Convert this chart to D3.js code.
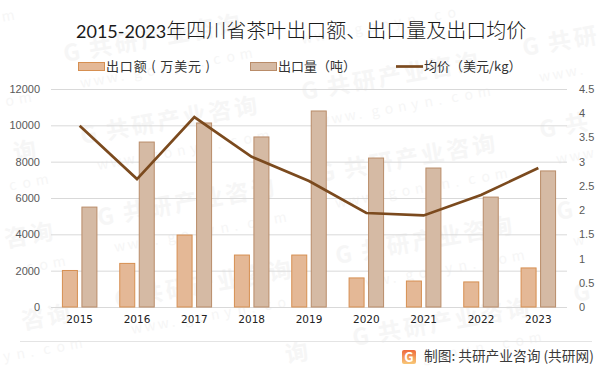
<!DOCTYPE html>
<html>
<head>
<meta charset="utf-8">
<script src="https://cdn.jsdelivr.net/npm/d3@7"></script>
<style>
html,body{margin:0;padding:0;background:#fff}
svg{display:block}
text{font-family:"Noto Sans CJK SC","Liberation Sans",sans-serif;text-spacing-trim:space-all}
</style>
</head>
<body>
<svg id="chart" width="603" height="374"></svg>
<script>
const years = ["2015","2016","2017","2018","2019","2020","2021","2022","2023"]
const amount = [2010,2400,3960,2860,2860,1600,1430,1380,2150]
const volume = [5500,9080,10130,9360,10790,8200,7650,6050,7490]
const price = [3.74,2.64,3.92,3.10,2.60,1.94,1.89,2.31,2.87]
const leftTicks = [0,2000,4000,6000,8000,10000,12000]
const rightTicks = [0,0.5,1,1.5,2,2.5,3,3.5,4,4.5]

const titleYears = "2015-2023"
const titleRest = "年四川省茶叶出口额、出口量及出口均价"
const amountName = "出口额 ( 万美元 )"
const volumeName = "出口量（吨）"
const priceName = "均价（美元/kg）"
const sourceText = "制图: 共研产业咨询 (共研网)"
const wmName = "G共研产业咨询"
const wmSite = "www.gonyn.com"

const W = 603, H = 374
const svg = d3.select("#chart")
const box = {left:51,right:567,top:89,bottom:307}

// watermark goes under everything. one glyph per text so the ones off the page can be skipped
const wm = svg.append("g").attr("fill","#f6f6f6")
const rad = -10*Math.PI/180
function wmGlyphs(str,ox,oy,step,size,weight){
	for(let i=0;i<str.length;i++){
		let px = ox+i*step*Math.cos(rad)
		let py = oy+i*step*Math.sin(rad)
		if(px<2 || px>W-size-2 || py<size+2 || py>H-10) continue
		wm.append("text")
			.text(str[i])
			.attr("transform","translate("+px+","+py+") rotate(-10)")
			.attr("font-size",size)
			.attr("font-weight",weight)
	}
}
for(let col=-1;col<4;col++){
	for(let row=-1;row<6;row++){
		let ox = 65+col*238+row*17
		let oy = 62+col*38+row*82
		wmGlyphs(wmName,ox,oy,26,23,700)
		wmGlyphs(wmSite,ox+16,oy+26,13.5,14,400)
	}
}

const x = d3.scaleBand().domain(years).range([box.left,box.right])
const yLeft = d3.scaleLinear().domain([0,12000]).range([box.bottom,box.top])
const yRight = d3.scaleLinear().domain([0,4.5]).range([box.bottom,box.top])

// gridlines
svg.append("g").selectAll("line").data(leftTicks).join("line")
	.attr("x1",box.left).attr("x2",box.right)
	.attr("y1",d=>yLeft(d)+0.5).attr("y2",d=>yLeft(d)+0.5)
	.attr("stroke","#d9d9d9").attr("stroke-width",1)

const barW = 15
const barGap = 4.5
function cx(y){ return x(y)+x.bandwidth()/2 }

svg.append("g").selectAll("rect").data(years).join("rect")
	.attr("x",d=>cx(d)-barGap/2-barW)
	.attr("y",(d,i)=>yLeft(amount[i]))
	.attr("width",barW)
	.attr("height",(d,i)=>box.bottom-yLeft(amount[i]))
	.attr("fill","#e4b896")
	.attr("stroke","#d68f51").attr("stroke-width",1)

svg.append("g").selectAll("rect").data(years).join("rect")
	.attr("x",d=>cx(d)+barGap/2)
	.attr("y",(d,i)=>yLeft(volume[i]))
	.attr("width",barW)
	.attr("height",(d,i)=>box.bottom-yLeft(volume[i]))
	.attr("fill","#d5baa4")
	.attr("stroke","#b98c69").attr("stroke-width",1)

const line = d3.line().x((d,i)=>cx(years[i])).y(d=>yRight(d))
svg.append("path")
	.attr("d",line(price))
	.attr("fill","none")
	.attr("stroke","#7b4a1e")
	.attr("stroke-width",2.7)

// axes
const axisBottom = svg.append("g")
	.attr("transform","translate(0,"+box.bottom+")")
	.call(d3.axisBottom(x).tickSize(0).tickPadding(9))
axisBottom.select(".domain").remove()
axisBottom.selectAll("text").attr("fill","#222").style("font-family","'DejaVu Sans'").style("font-size","10.5px")

const axisLeft = svg.append("g")
	.attr("transform","translate(40,0)")
	.call(d3.axisLeft(yLeft).tickValues(leftTicks).tickSize(0).tickPadding(0).tickFormat(d3.format("d")))
axisLeft.select(".domain").remove()
axisLeft.selectAll("text").attr("fill","#595959").style("font-family","'Liberation Sans'").style("font-size","11px")

const axisRight = svg.append("g")
	.attr("transform","translate(579,0)")
	.call(d3.axisRight(yRight).tickValues(rightTicks).tickSize(0).tickPadding(0).tickFormat(d=>String(d)))
axisRight.select(".domain").remove()
axisRight.selectAll("text").attr("fill","#595959").style("font-family","'Liberation Sans'").style("font-size","11px")

// title
const title = svg.append("text")
	.attr("x",76).attr("y",38)
	.attr("font-size",20)
	.attr("font-weight",300)
	.attr("fill","#1a1a1a")
title.append("tspan").text(titleYears).style("font-family","Lato").attr("font-size",18).attr("font-weight",400)
title.append("tspan").text(titleRest)

// legend
const legend = svg.append("g").attr("font-size",13).attr("fill","#333")
legend.append("rect").attr("x",78.5).attr("y",62.5).attr("width",26).attr("height",8)
	.attr("fill","#e4b896").attr("stroke","#d68f51")
legend.append("text").text(amountName).attr("x",106).attr("y",71).attr("textLength",104)
legend.append("rect").attr("x",250.5).attr("y",62.5).attr("width",26).attr("height",8)
	.attr("fill","#d5baa4").attr("stroke","#b98c69")
legend.append("text").text(volumeName).attr("x",278).attr("y",70.5)
legend.append("line").attr("x1",396).attr("x2",423).attr("y1",66.5).attr("y2",66.5)
	.attr("stroke","#7b4a1e").attr("stroke-width",2.7)
legend.append("text").text(priceName).attr("x",424).attr("y",70.5)

// footer
svg.append("line").attr("x1",20).attr("x2",592).attr("y1",341.5).attr("y2",341.5).attr("stroke","#e4e4e4")
const logo = svg.append("g").attr("transform","translate(402,350)")
const grad = svg.append("defs").append("linearGradient").attr("id","logoGrad").attr("x1",0).attr("y1",0).attr("x2",0).attr("y2",1)
grad.append("stop").attr("offset",0).attr("stop-color","#ee6a3c")
grad.append("stop").attr("offset",1).attr("stop-color","#f8c777")
logo.append("rect").attr("width",14).attr("height",14).attr("rx",2).attr("fill","url(#logoGrad)")
logo.append("text").text("G").attr("x",7).attr("y",12).attr("text-anchor","middle").attr("font-size",13).attr("font-weight",700).attr("fill","#fff")
svg.append("text")
	.text(sourceText)
	.attr("x",424).attr("y",361)
	.attr("font-size",13.7)
	.attr("fill","#3a3a3a")
</script>
</body>
</html>
